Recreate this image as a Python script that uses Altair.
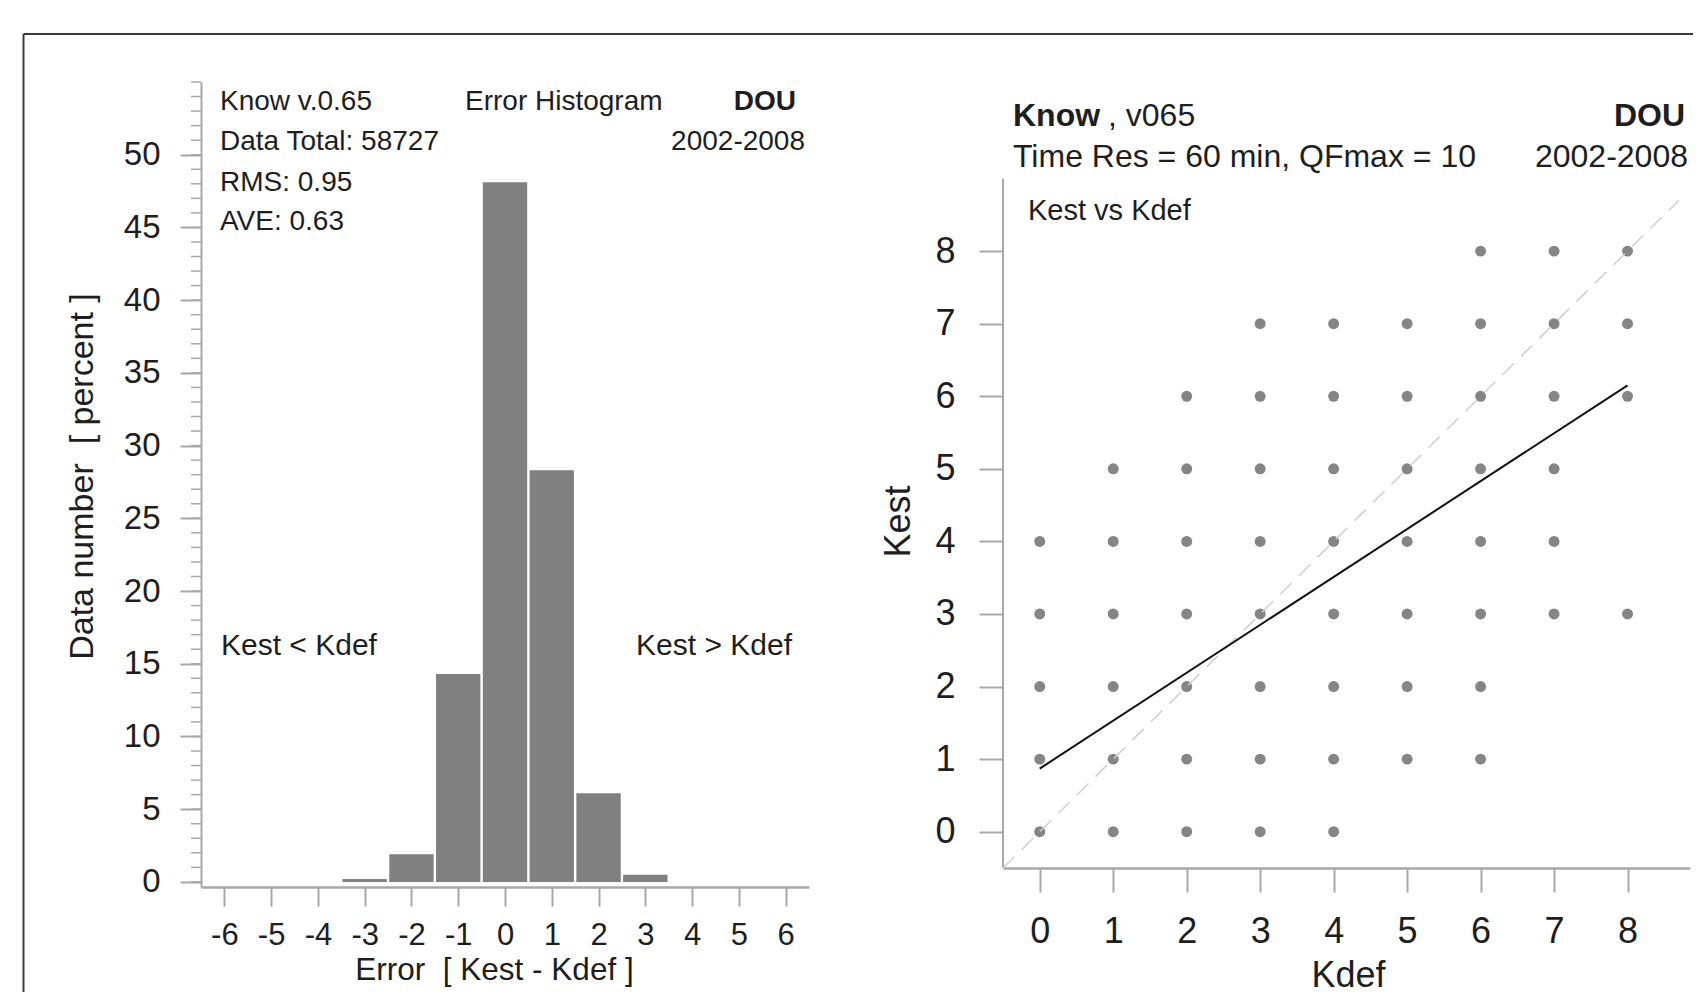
import altair as alt
import pandas as pd

FONT = "Liberation Sans"
AXIS_GRAY = "#a8a8a8"
TEXT = "#1e1e1e"
BAR = "#808080"
DOT = "#858585"
NB = "\u00a0"

# ---------------- data ----------------
# Error histogram: error bins [Kest - Kdef] and percentage of data
err_bins = [-6, -5, -4, -3, -2, -1, 0, 1, 2, 3, 4, 5, 6]
err_pct = [0, 0, 0, 0.2, 1.9, 14.3, 48.1, 28.3, 6.1, 0.5, 0, 0, 0]
y_major = [0, 5, 10, 15, 20, 25, 30, 35, 40, 45, 50]
y_minor = list(range(0, 56))

# Kest vs Kdef scatter: for each Kest row, the Kdef values that occur
kest_rows = [0, 1, 2, 3, 4, 5, 6, 7, 8]
kdef_present = [
    [0, 1, 2, 3, 4],
    [0, 1, 2, 3, 4, 5, 6],
    [0, 1, 2, 3, 4, 5, 6],
    [0, 1, 2, 3, 4, 5, 6, 7, 8],
    [0, 1, 2, 3, 4, 5, 6, 7],
    [1, 2, 3, 4, 5, 6, 7],
    [2, 3, 4, 5, 6, 7, 8],
    [3, 4, 5, 6, 7, 8],
    [6, 7, 8],
]
k_ticks = [0, 1, 2, 3, 4, 5, 6, 7, 8]
fit_x = [0, 8]
fit_y = [0.87, 6.15]
diag_v = [-0.5, 8.7]

# ---------------- helpers ----------------
one = pd.DataFrame({"d": [0]})


def note(text, x, y, size, align="left", weight="normal"):
    return alt.Chart(one).mark_text(
        text=text, align=align, baseline="middle", fontSize=size,
        fontWeight=weight, color=TEXT, font=FONT,
    ).encode(x=alt.value(x), y=alt.value(y))


common = dict(grid=False, tickWidth=2, tickColor=AXIS_GRAY, domainColor=AXIS_GRAY,
              labelColor=TEXT, labelFont=FONT, titleFont=FONT,
              titleFontWeight="normal", titleColor=TEXT, titleBaseline="middle",
              titleAlign="center", labelExpr="'' + datum.value")

# ---------------- left: histogram ----------------
hist = pd.DataFrame({"err": err_bins, "pct": err_pct})
hist = hist[hist.pct > 0].copy()
hist["lo"] = hist.err - 0.5
hist["hi"] = hist.err + 0.5
hist["base"] = 0.0

xl = alt.Scale(domain=[-6.5, 6.5], nice=False, zero=False)
yl = alt.Scale(domain=[-0.35, 55], nice=False, zero=False)

xl_axis = alt.Axis(values=err_bins, tickSize=19, domainWidth=2.5, labelFontSize=31,
                   labelPadding=14, title=f"Error{NB}{NB}[ Kest - Kdef ]",
                   titleFontSize=31.5, titleX=293, titleY=83, **common)
yl_axis = alt.Axis(values=y_major, tickSize=21, domainWidth=2, labelFontSize=33,
                   labelPadding=20, title=f"Data number{NB}{NB}[ percent ]",
                   titleFontSize=34, titleAngle=270, titleX=-119, titleY=394,
                   **common)

bars = alt.Chart(hist).mark_rect(color=BAR, xOffset=1.2, x2Offset=-1.2).encode(
    x=alt.X("lo:Q", scale=xl, axis=xl_axis),
    x2="hi:Q",
    y=alt.Y("pct:Q", scale=yl, axis=yl_axis),
    y2="base:Q",
)

minor = alt.Chart(pd.DataFrame({"v": y_minor})).mark_rule(
    color=AXIS_GRAY, strokeWidth=1.5).encode(
    y=alt.Y("v:Q", scale=yl, axis=yl_axis), x=alt.value(-10), x2=alt.value(0))

frame_v = alt.Chart(one).mark_rule(color="#3a3a3a", strokeWidth=2).encode(
    x=alt.value(-177.5), y=alt.value(-48), y2=alt.value(910))
frame_h = alt.Chart(one).mark_rule(color="#3a3a3a", strokeWidth=2).encode(
    x=alt.value(-177.5), x2=alt.value(1492), y=alt.value(-48))

left = alt.layer(
    bars, minor, frame_v, frame_h,
    note("Know v.0.65", 19, 20, 28),
    note("Error Histogram", 264, 20, 28),
    note("DOU", 595, 20, 28, align="right", weight="bold"),
    note("Data Total: 58727", 19, 60, 28),
    note("2002-2008", 604, 60, 28, align="right"),
    note("RMS: 0.95", 19, 101, 28),
    note("AVE: 0.63", 19, 140, 28),
    note("Kest < Kdef", 20, 564, 30),
    note("Kest > Kdef", 591, 564, 30, align="right"),
).properties(width=608, height=805)

# ---------------- right: Kest vs Kdef ----------------
rows = []
for kest, defs in zip(kest_rows, kdef_present):
    for kdef in defs:
        rows.append({"kdef": kdef, "kest": kest})
pts = pd.DataFrame(rows)

xr = alt.Scale(domain=[-0.5, 8.85], nice=False, zero=False)
yr = alt.Scale(domain=[-0.5, 10.33], nice=False, zero=False)

xr_axis = alt.Axis(values=k_ticks, tickSize=24, domainWidth=2.5, labelFontSize=36,
                   labelPadding=22, title="Kdef", titleFontSize=36, titleX=345,
                   titleY=107, **common)
yr_axis = alt.Axis(values=k_ticks, domain=False, tickSize=24, labelFontSize=36,
                   labelPadding=24, title="Kest", titleFontSize=36, titleAngle=270,
                   titleX=-105, titleY=439, **common)

dots = alt.Chart(pts).mark_circle(size=120, color=DOT, opacity=1).encode(
    x=alt.X("kdef:Q", scale=xr, axis=xr_axis),
    y=alt.Y("kest:Q", scale=yr, axis=yr_axis),
)

yaxis_line = alt.Chart(pd.DataFrame({"a": [-0.5], "b": [9.0]})).mark_rule(
    color=AXIS_GRAY, strokeWidth=2).encode(
    x=alt.value(0), y=alt.Y("a:Q", scale=yr, axis=yr_axis), y2="b:Q")

diag = alt.Chart(pd.DataFrame({"x": diag_v, "y": diag_v})).mark_line(
    color="#cfcfcf", strokeWidth=1.5, strokeDash=[16, 10]).encode(
    x=alt.X("x:Q", scale=xr, axis=xr_axis), y=alt.Y("y:Q", scale=yr, axis=yr_axis))

fit = alt.Chart(pd.DataFrame({"x": fit_x, "y": fit_y})).mark_line(
    color="#111111", strokeWidth=2).encode(
    x=alt.X("x:Q", scale=xr, axis=xr_axis), y=alt.Y("y:Q", scale=yr, axis=yr_axis))

right = alt.layer(
    dots, yaxis_line, diag, fit,
    note("Know", 10, 34, 32, weight="bold"),
    note(", v065", 105, 34, 32),
    note("DOU", 682, 34, 32, align="right", weight="bold"),
    note("Time Res = 60 min, QFmax = 10", 10, 75, 32),
    note("2002-2008", 685, 75, 32, align="right"),
    note("Kest vs Kdef", 25, 129, 29),
).properties(width=687, height=786)

chart = alt.hconcat(left, right, spacing=194, bounds="flush").properties(
    padding={"left": 14, "top": 25, "right": 0, "bottom": 0},
    background="white",
).configure(font=FONT).configure_view(strokeWidth=0, stroke=None)

chart.save("out.html", embed_options={"renderer": "svg", "actions": False})
